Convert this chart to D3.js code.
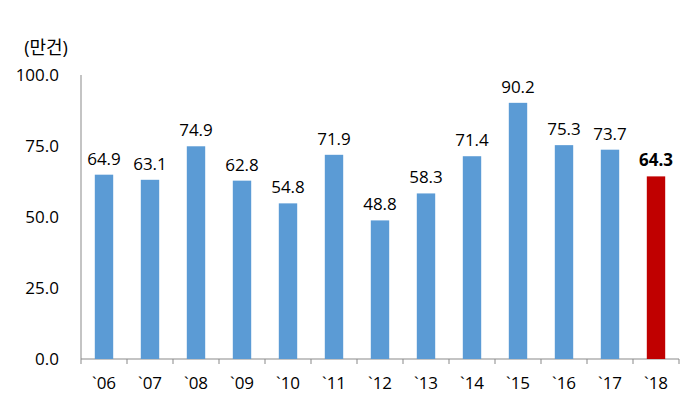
<!DOCTYPE html>
<html><head><meta charset="utf-8">
<script src="https://cdn.jsdelivr.net/npm/d3@7"></script>
<style>body{margin:0;background:#fff;}svg{display:block;font-family:"Open Sans","Noto Sans CJK KR",sans-serif;}</style>
</head><body>
<svg id="c" width="700" height="418"></svg>
<script>
const categories = ["`06","`07","`08","`09","`10","`11","`12","`13","`14","`15","`16","`17","`18"];
const values = [64.9,63.1,74.9,62.8,54.8,71.9,48.8,58.3,71.4,90.2,75.3,73.7,64.3];
const yTicks = [0,25,50,75,100];
const unitLabel = "(만건)";

const svg = d3.select("#c");
const x = d3.scaleBand().domain(categories).range([81,679]).paddingInner(0.6).paddingOuter(0.3);
const y = d3.scaleLinear().domain([0,100]).range([359,75]);
const axisColor = "#898989";

svg.append("line").attr("x1",81).attr("x2",81).attr("y1",y(100)).attr("y2",y(0)).attr("stroke",axisColor);
svg.selectAll(".yl").data(yTicks).join("text")
  .attr("x",59).attr("y",d=>y(d)).attr("dy","0.35em").attr("text-anchor","end")
  .attr("font-size",17).attr("fill","#000").text(d=>d.toFixed(1));

svg.append("line").attr("x1",81).attr("x2",679).attr("y1",y(0)).attr("y2",y(0)).attr("stroke",axisColor);
const bounds = d3.range(categories.length+1).map(i=>81+i*(598/categories.length));
svg.selectAll(".xt").data(bounds).join("line")
  .attr("x1",d=>d).attr("x2",d=>d).attr("y1",y(0)).attr("y2",y(0)+5).attr("stroke",axisColor);

svg.selectAll(".bar").data(values).join("rect")
  .attr("x",(d,i)=>x(categories[i])).attr("width",x.bandwidth())
  .attr("y",d=>y(d)).attr("height",d=>y(0)-y(d))
  .attr("fill",(d,i)=>i===categories.length-1?"#C00000":"#5B9BD5");

svg.selectAll(".vl").data(values).join("text")
  .attr("x",(d,i)=>x(categories[i])+x.bandwidth()/2).attr("y",d=>y(d)-10)
  .attr("text-anchor","middle").attr("font-size",17)
  .attr("font-weight",(d,i)=>i===categories.length-1?"bold":"normal")
  .attr("fill","#000").text(d=>d.toFixed(1));

svg.selectAll(".xl").data(categories).join("text")
  .attr("x",d=>x(d)+x.bandwidth()/2).attr("y",389).attr("text-anchor","middle")
  .attr("font-size",17).attr("fill","#000").text(d=>d);

svg.append("text").attr("x",46).attr("y",54).attr("text-anchor","middle")
  .attr("font-size",18).attr("fill","#000").text(unitLabel);
</script>
</body></html>
